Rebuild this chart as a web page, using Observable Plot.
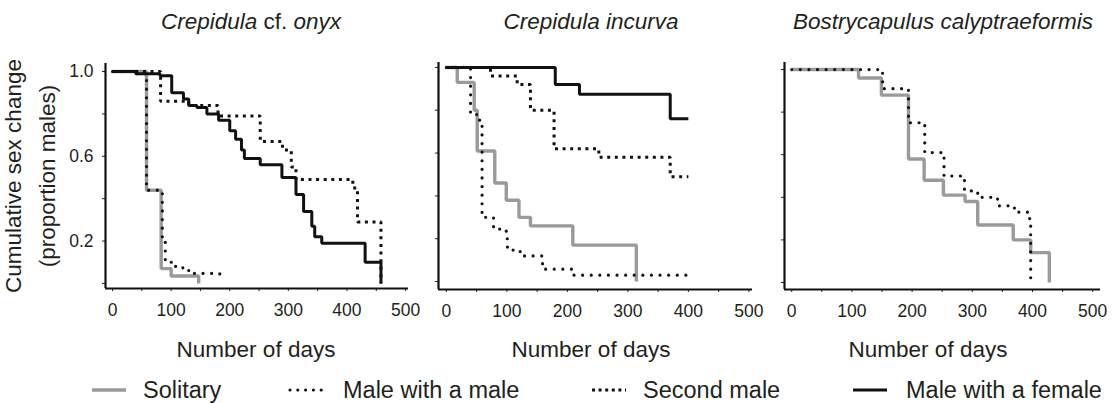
<!DOCTYPE html>
<html><head><meta charset="utf-8">
<script src="https://cdn.jsdelivr.net/npm/d3@7"></script>
<script src="https://cdn.jsdelivr.net/npm/@observablehq/plot@0.6"></script>
<style>
body{margin:0;background:#fff;}
#root{position:relative;width:1116px;height:403px;font-family:"Liberation Sans",Arial,Helvetica,sans-serif;color:#231f20;overflow:hidden;background:#fff;}
.abs{position:absolute;white-space:nowrap;line-height:1;}
.title{font-size:22.5px;font-style:italic;transform:translate(-50%,-50%);}
.title .up{font-style:normal;}
.xlab{font-size:22.5px;transform:translate(-50%,-50%);}
.ylab{font-size:22.5px;transform:translate(-50%,-50%) rotate(-90deg);}
.leg{font-size:23.5px;transform:translateY(-50%);}
.sw{position:absolute;transform:translateY(-50%);}
.panel{position:absolute;top:0;}
.panel text{font-size:17.5px !important;font-family:"Liberation Sans",Arial,sans-serif;fill:#231f20;}
</style>
</head><body>
<div id="root"></div>
<script>
// ---------- data ----------
const panelTitles = ["Crepidula cf. onyx", "Crepidula incurva", "Bostrycapulus calyptraeformis"];
const xAxisLabel = "Number of days";
const yAxisLabel = ["Cumulative sex change", "(proportion males)"];
const seriesNames = ["Solitary", "Male with a male", "Second male", "Male with a female"];

const xTickValues = [0, 50, 100, 150, 200, 250, 300, 350, 400, 450, 500];
const xTickLabels = ["0", "", "100", "", "200", "", "300", "", "400", "", "500"];
const yTickValues = [0, 0.2, 0.4, 0.6, 0.8, 1.0];
const yTickLabels = ["", "0.2", "", "0.6", "", "1.0"];

// [day, proportion of males]
const onyxSolitary = [[0,1],[58,0.44],[83,0.07],[100,0.035],[147,0]];
const onyxMaleWithMale = [[0,1],[36,0.99],[58,0.44],[85,0.2],[90,0.1],[105,0.08],[120,0.065],[130,0.047],[183,0.025],[187,0.025]];
const onyxSecondMale = [[0,1],[82,0.86],[130,0.84],[180,0.79],[252,0.67],[290,0.63],[305,0.55],[313,0.49],[410,0.45],[418,0.29],[458,0]];
const onyxMaleWithFemale = [[0,1],[40,0.99],[81,0.98],[101,0.9],[121,0.87],[130,0.84],[144,0.83],[161,0.8],[181,0.77],[200,0.72],[210,0.68],[220,0.63],[225,0.59],[252,0.56],[289,0.5],[313,0.42],[326,0.34],[340,0.27],[345,0.22],[357,0.19],[431,0.1],[458,0]];

const incurvaSolitary = [[0,1],[18,0.93],[46,0.8],[51,0.61],[80,0.46],[99,0.38],[120,0.30],[139,0.26],[209,0.17],[314,0]];
const incurvaMaleWithMale = [[0,1],[40,0.78],[55,0.75],[59,0.30],[78,0.245],[99,0.2],[101,0.147],[122,0.12],[159,0.058],[209,0.03],[400,0.03]];
const incurvaSecondMale = [[0,1],[73,0.96],[117,0.92],[139,0.80],[178,0.62],[252,0.58],[370,0.49],[400,0.49]];
const incurvaMaleWithFemale = [[0,1],[180,0.92],[220,0.875],[370,0.76],[400,0.76]];

const bostSolitary = [[0,1],[111,0.96],[149,0.88],[194,0.58],[220,0.48],[252,0.41],[288,0.38],[309,0.27],[368,0.20],[397,0.14],[428,0]];
const bostMaleWithMale = [[0,1],[151,0.91],[194,0.75],[221,0.61],[253,0.50],[287,0.43],[309,0.40],[342,0.36],[370,0.33],[395,0.30],[397,0]];

// ---------- styles ----------
const seriesStyle = {
  "Solitary": {stroke:"#9a9a9a", strokeWidth:3.4, strokeLinecap:"butt", strokeDasharray:null},
  "Male with a male": {stroke:"#111", strokeWidth:3.2, strokeLinecap:"round", strokeDasharray:"0 8.6"},
  "Second male": {stroke:"#111", strokeWidth:3, strokeLinecap:"butt", strokeDasharray:"3 4.6"},
  "Male with a female": {stroke:"#111", strokeWidth:3, strokeLinecap:"butt", strokeDasharray:null}
};

const panels = [
  {title:0, left:0, frameLeft:105, frameRight:408, xDomain:[-12,505], yDomain:[-0.024,1.038], top:63, bottom:288,
   series:[["Solitary",onyxSolitary],["Male with a male",onyxMaleWithMale],["Second male",onyxSecondMale],["Male with a female",onyxMaleWithFemale]],
   showY:true, titleX:251, xlabX:256},
  {title:1, left:380, frameLeft:438, frameRight:752, xDomain:[-13,506], yDomain:[-0.037,1.023], top:62, bottom:289,
   series:[["Solitary",incurvaSolitary],["Male with a male",incurvaMaleWithMale],["Second male",incurvaSecondMale],["Male with a female",incurvaMaleWithFemale]],
   showY:false, titleX:591, xlabX:591},
  {title:2, left:760, frameLeft:784, frameRight:1100, xDomain:[-12,513], yDomain:[-0.033,1.033], top:62, bottom:289,
   series:[["Solitary",bostSolitary],["Male with a male",bostMaleWithMale]],
   showY:false, titleX:943, xlabX:928}
];

const root = document.getElementById("root");
const svgH = 335;

for (const p of panels) {
  const marks = [
    Plot.axisY({ticks: yTickValues, tickSize: 3, tickPadding: 9, label: null, fontSize: 17.5,
      tickFormat: d => p.showY ? yTickLabels[yTickValues.indexOf(d)] : ""}),
    Plot.axisX({ticks: xTickValues, tickSize: 3, tickPadding: 12, label: null, fontSize: 17.5,
      tickFormat: d => xTickLabels[xTickValues.indexOf(d)]}),
    Plot.ruleX([p.xDomain[0]], {stroke:"#111", strokeWidth:2.2}),
    Plot.ruleY([p.yDomain[0]], {stroke:"#111", strokeWidth:2.2})
  ];
  for (const [name, data] of p.series) {
    const s = seriesStyle[name];
    const opts = {x: d => d[0], y: d => d[1], curve: "step-after", stroke: s.stroke,
      strokeWidth: s.strokeWidth, strokeLinecap: s.strokeLinecap, strokeLinejoin: "miter"};
    if (s.strokeDasharray) opts.strokeDasharray = s.strokeDasharray;
    marks.push(Plot.line(data, opts));
  }
  const ml = p.frameLeft - p.left;
  const width = p.frameRight - p.left + 16;
  const chart = Plot.plot({
    width, height: svgH,
    marginLeft: ml, marginRight: 16, marginTop: p.top, marginBottom: svgH - p.bottom,
    x: {domain: p.xDomain},
    y: {domain: p.yDomain},
    style: {fontSize: "17.5px", fontFamily: '"Liberation Sans",Arial,sans-serif', color: "#231f20", background: "transparent", overflow: "visible"},
    marks
  });
  chart.classList.add("panel");
  chart.style.left = p.left + "px";
  root.appendChild(chart);

  const t = document.createElement("div");
  t.className = "abs title";
  const title = panelTitles[p.title];
  if (title.includes(" cf. ")) {
    const [a, b] = title.split(" cf. ");
    t.innerHTML = a + ' <span class="up">cf.</span> ' + b;
  } else t.textContent = title;
  t.style.left = p.titleX + "px";
  t.style.top = "22px";
  root.appendChild(t);

  const xl = document.createElement("div");
  xl.className = "abs xlab";
  xl.textContent = xAxisLabel;
  xl.style.left = p.xlabX + "px";
  xl.style.top = "350px";
  root.appendChild(xl);
}

yAxisLabel.forEach((txt, i) => {
  const d = document.createElement("div");
  d.className = "abs ylab";
  d.textContent = txt;
  d.style.left = (i === 0 ? 14 : 48) + "px";
  d.style.top = "176px";
  root.appendChild(d);
});

const legendPos = [
  {sw:92, txt:143},
  {sw:288, txt:343},
  {sw:592, txt:643},
  {sw:853, txt:906}
];
seriesNames.forEach((name, i) => {
  const s = seriesStyle[name];
  const pos = legendPos[i];
  const ns = "http://www.w3.org/2000/svg";
  const svg = document.createElementNS(ns, "svg");
  svg.setAttribute("width", 38); svg.setAttribute("height", 8);
  svg.setAttribute("class", "sw");
  svg.style.left = pos.sw + "px"; svg.style.top = "390px";
  const line = document.createElementNS(ns, "line");
  line.setAttribute("x1", name === "Male with a male" ? 2 : 0);
  line.setAttribute("x2", 34);
  line.setAttribute("y1", 4); line.setAttribute("y2", 4);
  line.setAttribute("stroke", s.stroke); line.setAttribute("stroke-width", s.strokeWidth);
  line.setAttribute("stroke-linecap", s.strokeLinecap);
  if (name === "Male with a male") line.setAttribute("stroke-dasharray", "0 7.8");
  else if (name === "Second male") line.setAttribute("stroke-dasharray", "3 3.6");
  svg.appendChild(line);
  root.appendChild(svg);
  const t = document.createElement("div");
  t.className = "abs leg";
  t.textContent = name;
  t.style.left = pos.txt + "px"; t.style.top = "391px";
  root.appendChild(t);
});
</script>
</body></html>
